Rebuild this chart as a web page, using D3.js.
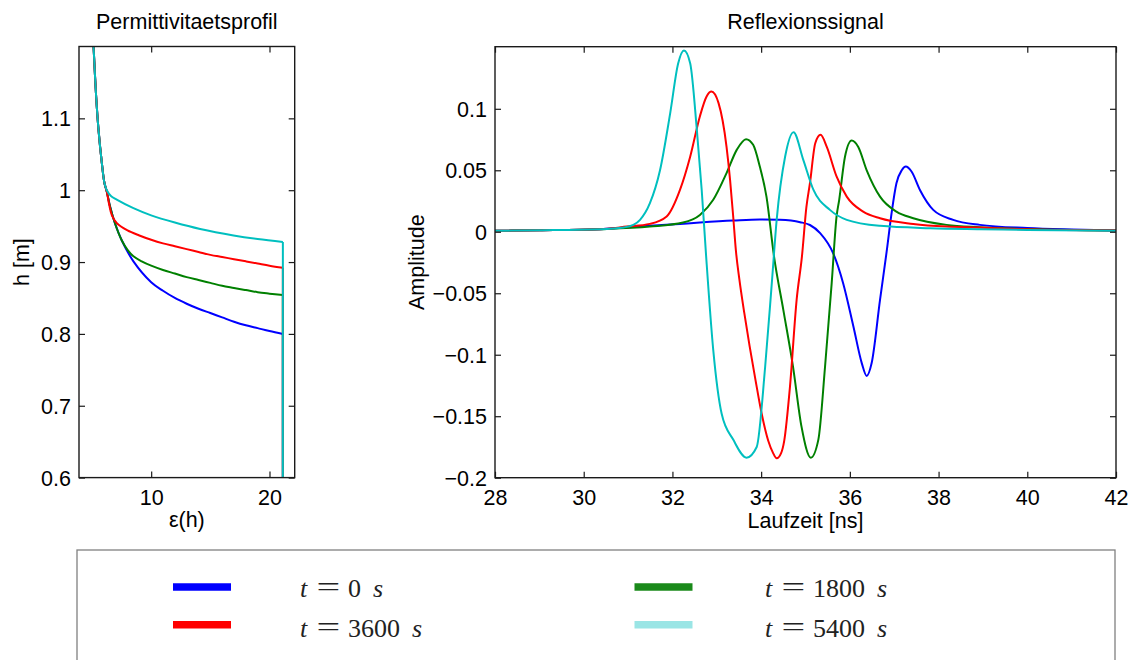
<!DOCTYPE html>
<html>
<head>
<meta charset="utf-8">
<script src="https://cdn.jsdelivr.net/npm/d3@7"></script>
<style>
  html, body { margin: 0; padding: 0; background: #fff; }
  svg { display: block; }
</style>
</head>
<body>
<svg id="chart" width="1134" height="660"></svg>
<script>
// ---------------- DATA ----------------
const seriesLabels = ["0", "1800", "3600", "5400"];
const seriesColors = ["#0000ff", "#008000", "#ff0000", "#00bfbf"];
const legendColors = ["#0000ff", "#1a8a1a", "#ff0000", "#9ae5e5"];

// Permittivity profile: epsilon vs height h [m]
const profileEpsT0    = [5.13, 5.35, 5.55, 5.83, 6.05, 6.25, 6.53, 6.96, 7.52, 8.50, 10.0, 11.0, 12.0, 13.0, 14.0, 15.0, 16.0, 17.0, 18.0, 19.0, 20.0, 21.13, 21.13];
const profileHT0      = [1.20, 1.13, 1.084, 1.038, 1.010, 0.998, 0.977, 0.953, 0.930, 0.901, 0.872, 0.860, 0.850, 0.842, 0.835, 0.829, 0.823, 0.817, 0.812, 0.808, 0.804, 0.800, 0.60];
const profileEpsT1800 = [5.13, 5.35, 5.55, 5.83, 6.05, 6.25, 6.53, 6.96, 7.52, 8.0, 8.5, 9.2, 10.0, 11.0, 12.0, 13.0, 14.0, 15.0, 16.0, 17.0, 18.0, 19.0, 20.0, 21.13, 21.13];
const profileHT1800   = [1.20, 1.13, 1.084, 1.038, 1.010, 0.998, 0.977, 0.953, 0.930, 0.917, 0.908, 0.901, 0.895, 0.889, 0.884, 0.879, 0.875, 0.871, 0.867, 0.864, 0.861, 0.858, 0.856, 0.854, 0.60];
const profileEpsT3600 = [5.13, 5.35, 5.55, 5.83, 6.05, 6.25, 6.45, 6.68, 7.10, 8.0, 9.0, 10.0, 11.0, 12.0, 13.0, 14.0, 15.0, 16.0, 17.0, 18.0, 19.0, 20.0, 21.13, 21.13];
const profileHT3600   = [1.20, 1.13, 1.084, 1.038, 1.010, 0.998, 0.980, 0.965, 0.954, 0.944, 0.937, 0.931, 0.926, 0.922, 0.918, 0.914, 0.910, 0.907, 0.904, 0.901, 0.898, 0.895, 0.892, 0.60];
const profileEpsT5400 = [5.13, 5.35, 5.55, 5.83, 6.05, 6.25, 6.60, 7.09, 8.50, 10.0, 12.0, 14.14, 16.96, 19.0, 21.13, 21.13];
const profileHT5400   = [1.20, 1.13, 1.084, 1.038, 1.010, 1.000, 0.992, 0.987, 0.975, 0.965, 0.955, 0.946, 0.937, 0.932, 0.928, 0.60];

// Reflection signal: amplitude vs travel time [ns]
const signalTimeT0 = [28, 29, 30.37, 31.49, 32.17, 32.62, 33.37, 33.97, 34.42, 34.88, 35.10, 35.33, 35.63, 35.85, 36.08, 36.27, 36.38, 36.49, 36.68, 36.83, 36.94, 37.05, 37.17, 37.26, 37.39, 37.58, 37.88, 38.33, 38.93, 40, 41, 42];
const signalAmpT0  = [0.0008, 0.0012, 0.0021, 0.0048, 0.0064, 0.0075, 0.0091, 0.0100, 0.0097, 0.0078, 0.0055, -0.0011, -0.018, -0.042, -0.077, -0.107, -0.1172, -0.107, -0.0554, -0.016, 0.015, 0.0395, 0.050, 0.053, 0.049, 0.034, 0.0178, 0.0097, 0.0056, 0.003, 0.0018, 0.001];
const signalTimeT1800 = [28, 29, 30.37, 31.49, 32.24, 32.62, 32.92, 33.22, 33.45, 33.66, 33.82, 33.97, 34.12, 34.29, 34.50, 34.72, 34.91, 35.12, 35.29, 35.44, 35.59, 35.70, 35.76, 35.89, 36.04, 36.19, 36.38, 36.68, 37.05, 37.43, 38.18, 38.93, 40, 42];
const signalAmpT1800  = [0.0008, 0.0012, 0.0021, 0.0042, 0.0075, 0.0137, 0.026, 0.0477, 0.0666, 0.0753, 0.0707, 0.053, 0.0286, -0.02, -0.0635, -0.110, -0.1585, -0.1837, -0.169, -0.110, -0.042, 0.0124, 0.026, 0.061, 0.0742, 0.069, 0.050, 0.0286, 0.0164, 0.011, 0.0056, 0.0037, 0.0022, 0.001];
const signalTimeT3600 = [28, 29, 30.37, 30.97, 31.49, 31.87, 32.17, 32.40, 32.62, 32.77, 32.88, 33.04, 33.22, 33.30, 33.37, 33.43, 33.51, 33.62, 33.74, 33.87, 34.01, 34.16, 34.27, 34.35, 34.45, 34.52, 34.65, 34.80, 34.92, 35.02, 35.10, 35.22, 35.34, 35.48, 35.70, 35.93, 36.30, 36.68, 37.43, 38.18, 38.93, 40, 42];
const signalAmpT3600  = [0.0008, 0.0012, 0.0021, 0.0042, 0.0064, 0.0124, 0.034, 0.061, 0.094, 0.110, 0.114, 0.1046, 0.069, 0.042, 0.0124, -0.015, -0.039, -0.066, -0.093, -0.120, -0.1476, -0.170, -0.180, -0.1842, -0.180, -0.170, -0.126, -0.0554, -0.02, 0.020, 0.0395, 0.072, 0.0788, 0.069, 0.045, 0.0286, 0.0164, 0.011, 0.0064, 0.0042, 0.0034, 0.002, 0.001];
const signalTimeT5400 = [28, 29, 30.37, 30.90, 31.12, 31.27, 31.49, 31.72, 31.95, 32.13, 32.26, 32.40, 32.55, 32.66, 32.76, 32.92, 33.11, 33.37, 33.67, 33.90, 34.09, 34.24, 34.35, 34.54, 34.73, 34.95, 35.18, 35.55, 35.93, 36.68, 37.81, 38.93, 40, 42];
const signalAmpT5400  = [0.0008, 0.0012, 0.0021, 0.0035, 0.0056, 0.0097, 0.023, 0.050, 0.0965, 0.137, 0.1474, 0.137, 0.083, 0.034, -0.02, -0.096, -0.148, -0.169, -0.1837, -0.175, -0.110, -0.042, 0.0097, 0.061, 0.081, 0.0585, 0.034, 0.0178, 0.0097, 0.0048, 0.0029, 0.0021, 0.0015, 0.0008];

const profileXTicks = [10, 20];
const profileYTicks = [0.6, 0.7, 0.8, 0.9, 1.0, 1.1];
const signalXTicks = [28, 30, 32, 34, 36, 38, 40, 42];
const signalYTicks = [-0.2, -0.15, -0.1, -0.05, 0, 0.05, 0.1];

// ---------------- LAYOUT ----------------
const svg = d3.select("#chart");
svg.append("rect").attr("width", 1134).attr("height", 660).attr("fill", "#fff");
const sansFont = "'Liberation Sans', Arial, Helvetica, sans-serif";
const serifFont = "'Liberation Serif', 'Times New Roman', serif";
const fontSize = 21.5;
const axisColor = "#1a1a1a";

const profiles = [
  { eps: profileEpsT0, h: profileHT0 },
  { eps: profileEpsT1800, h: profileHT1800 },
  { eps: profileEpsT3600, h: profileHT3600 },
  { eps: profileEpsT5400, h: profileHT5400 }
];
const signals = [
  { t: signalTimeT0, a: signalAmpT0 },
  { t: signalTimeT1800, a: signalAmpT1800 },
  { t: signalTimeT3600, a: signalAmpT3600 },
  { t: signalTimeT5400, a: signalAmpT5400 }
];

function fmt(v) {
  const s = d3.format("~g")(v);
  return s.replace("-", "\u2212");
}

function drawAxes(x, y, xTicks, yTicks, left, right, top, bottom) {
  const tl = 6;
  const gb = svg.append("g").attr("transform", `translate(0,${bottom})`)
    .call(d3.axisBottom(x).tickValues(xTicks).tickSizeInner(-tl).tickSizeOuter(0).tickPadding(12).tickFormat(fmt));
  const gt = svg.append("g").attr("transform", `translate(0,${top})`)
    .call(d3.axisTop(x).tickValues(xTicks).tickSizeInner(-tl).tickSizeOuter(0).tickFormat(""));
  const gl = svg.append("g").attr("transform", `translate(${left},0)`)
    .call(d3.axisLeft(y).tickValues(yTicks).tickSizeInner(-tl).tickSizeOuter(0).tickPadding(8).tickFormat(fmt));
  const gr = svg.append("g").attr("transform", `translate(${right},0)`)
    .call(d3.axisRight(y).tickValues(yTicks).tickSizeInner(-tl).tickSizeOuter(0).tickFormat(""));
  [gb, gt, gl, gr].forEach(g => {
    g.select(".domain").remove();
    g.selectAll(".tick line").attr("stroke", axisColor).attr("stroke-width", 1.2);
    g.selectAll("text").attr("font-family", sansFont).attr("font-size", fontSize).attr("fill", "#000");
  });
  gb.selectAll(".tick text").attr("dy", null).attr("y", 0).attr("transform", "translate(0,27.5)");
  gl.selectAll(".tick text").attr("dy", "0.35em");
  svg.append("rect").attr("x", left).attr("y", top).attr("width", right - left).attr("height", bottom - top)
    .attr("fill", "none").attr("stroke", axisColor).attr("stroke-width", 1.4);
}

// ---------------- LEFT PANEL ----------------
const L = { left: 79, right: 294.7, top: 46.5, bottom: 477.6 };
const xEps = d3.scaleLinear().domain([3.9, 22.13]).range([L.left, L.right]);
const yH = d3.scaleLinear().domain([0.6, 1.2]).range([L.bottom, L.top]);

svg.append("clipPath").attr("id", "clipL").append("rect")
  .attr("x", L.left).attr("y", L.top).attr("width", L.right - L.left).attr("height", L.bottom - L.top);

const curveLine = d3.line().x(d => xEps(d[0])).y(d => yH(d[1])).curve(d3.curveCatmullRom.alpha(0.5));
const straightLine = d3.line().x(d => xEps(d[0])).y(d => yH(d[1]));
const gProf = svg.append("g").attr("clip-path", "url(#clipL)");
profiles.forEach((p, i) => {
  const pts = p.eps.map((e, k) => [e, p.h[k]]);
  const curvePts = pts.slice(0, pts.length - 1);
  const dropPts = pts.slice(pts.length - 2);
  gProf.append("path").attr("d", curveLine(curvePts)).attr("fill", "none")
    .attr("stroke", seriesColors[i]).attr("stroke-width", 2).attr("stroke-linejoin", "round");
  gProf.append("path").attr("d", straightLine(dropPts)).attr("fill", "none")
    .attr("stroke", seriesColors[i]).attr("stroke-width", 2);
});
drawAxes(xEps, yH, profileXTicks, profileYTicks, L.left, L.right, L.top, L.bottom);

svg.append("text").attr("x", (L.left + L.right) / 2).attr("y", 29).attr("text-anchor", "middle")
  .attr("font-family", sansFont).attr("font-size", fontSize).text("Permittivitaetsprofil");
svg.append("text").attr("x", (L.left + L.right) / 2).attr("y", 527).attr("text-anchor", "middle")
  .attr("font-family", sansFont).attr("font-size", fontSize).text("\u03b5(h)");
svg.append("text").attr("transform", `translate(29,${(L.top + L.bottom) / 2}) rotate(-90)`).attr("text-anchor", "middle")
  .attr("font-family", sansFont).attr("font-size", fontSize).text("h [m]");

// ---------------- RIGHT PANEL ----------------
const R = { left: 495, right: 1116, top: 46.7, bottom: 477.7 };
const xT = d3.scaleLinear().domain([28, 42]).range([R.left, R.right]);
const yA = d3.scaleLinear().domain([-0.2, 0.1505]).range([R.bottom, R.top]);

svg.append("clipPath").attr("id", "clipR").append("rect")
  .attr("x", R.left).attr("y", R.top).attr("width", R.right - R.left).attr("height", R.bottom - R.top);
const sigLine = d3.line().x(d => xT(d[0])).y(d => yA(d[1])).curve(d3.curveMonotoneX);
const gSig = svg.append("g").attr("clip-path", "url(#clipR)");
signals.forEach((s, i) => {
  const pts = s.t.map((t, k) => [t, s.a[k]]);
  gSig.append("path").attr("d", sigLine(pts)).attr("fill", "none")
    .attr("stroke", seriesColors[i]).attr("stroke-width", 2).attr("stroke-linejoin", "round");
});
drawAxes(xT, yA, signalXTicks, signalYTicks, R.left, R.right, R.top, R.bottom);

svg.append("text").attr("x", (R.left + R.right) / 2).attr("y", 29).attr("text-anchor", "middle")
  .attr("font-family", sansFont).attr("font-size", fontSize).text("Reflexionssignal");
svg.append("text").attr("x", (R.left + R.right) / 2).attr("y", 528).attr("text-anchor", "middle")
  .attr("font-family", sansFont).attr("font-size", fontSize).text("Laufzeit [ns]");
svg.append("text").attr("transform", `translate(423.5,${(R.top + R.bottom) / 2}) rotate(-90)`).attr("text-anchor", "middle")
  .attr("font-family", sansFont).attr("font-size", fontSize).text("Amplitude");

// ---------------- LEGEND ----------------
const legend = svg.append("g");
legend.append("rect").attr("x", 77).attr("y", 550).attr("width", 1115 - 77).attr("height", 130)
  .attr("fill", "#fff").attr("stroke", "#808080").attr("stroke-width", 1.3);

const legendSlots = [
  { sx: 173, tx: 300, y: 587, by: 597 },
  { sx: 634.5, tx: 765, y: 587, by: 597 },
  { sx: 173, tx: 300, y: 624.7, by: 636.5 },
  { sx: 634.5, tx: 765, y: 624.7, by: 636.5 }
];
seriesLabels.forEach((lab, i) => {
  const s = legendSlots[i];
  legend.append("line").attr("x1", s.sx).attr("x2", s.sx + 58).attr("y1", s.y).attr("y2", s.y)
    .attr("stroke", legendColors[i]).attr("stroke-width", 7.5);
  const txt = legend.append("text").attr("y", s.by).attr("font-family", serifFont)
    .attr("font-size", 26).attr("fill", "#222");
  txt.append("tspan").attr("x", s.tx).attr("font-style", "italic").text("t");
  txt.append("tspan").attr("x", s.tx + 48).text(lab);
  txt.append("tspan").attr("dx", 12).attr("font-style", "italic").text("s");
  legend.append("text").attr("transform", `translate(${s.tx + 16.5},${s.by - 1}) scale(1.5,1)`)
    .attr("font-family", serifFont).attr("font-size", 28).attr("fill", "#222").text("=");
});
</script>
</body>
</html>
